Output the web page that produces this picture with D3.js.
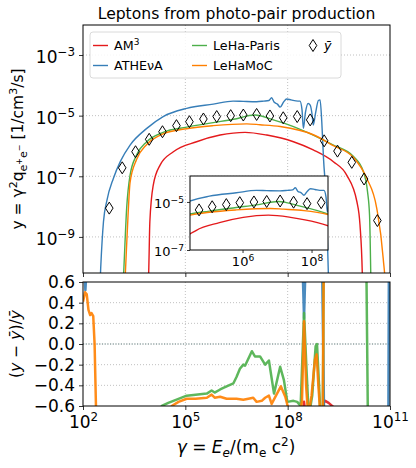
<!DOCTYPE html>
<head>
  <meta charset="utf-8">
  <title>Leptons from photo-pair production</title>
  <style>
    body { margin: 0; background: #fff; }
    svg text { font-family: "DejaVu Sans", sans-serif; fill: #000; }
  </style>
</head>
<body>
<script src="https://cdn.jsdelivr.net/npm/d3@7/dist/d3.min.js"></script>
<script>
  // log10(gamma) and log10(y), one pair of arrays per code
  var am3LogG = [3.88, 3.93, 3.96, 4.06, 4.26, 4.65, 5.33, 6.02, 6.75, 7.39, 8.17, 8.75, 9.34, 9.73, 10.03, 10.12, 10.19, 10.22];
  var am3LogY = [-12, -10, -8.5, -7.29, -6.63, -6.19, -5.86, -5.64, -5.55, -5.64, -5.86, -6.13, -6.52, -6.96, -7.84, -8.6, -10.3, -12];

  var athenaLogG = [2.45, 2.52, 2.6, 2.7, 2.89, 3.1, 3.38, 3.87, 4.35, 5.04, 5.82, 6.4, 6.7, 7.09, 7.3, 7.45, 7.53, 7.6, 7.7, 7.78, 7.88, 7.97, 8.1, 8.3, 8.36, 8.42, 8.46, 8.52, 8.6, 8.66, 8.72, 8.75, 8.82, 8.9, 8.95, 9.0, 9.05, 9.14, 9.2, 9.25];
  var athenaLogY = [-12, -10, -8.5, -7.8, -7.07, -6.5, -5.97, -5.42, -5.03, -4.76, -4.62, -4.52, -4.53, -4.54, -4.52, -4.5, -4.41, -4.55, -4.62, -4.72, -4.55, -4.45, -4.48, -4.52, -4.52, -4.8, -5.42, -4.9, -4.6, -4.65, -5.0, -5.31, -4.9, -4.5, -4.48, -5.2, -6.4, -8.05, -10.5, -13];

  var parisLogG = [3.12, 3.2, 3.28, 3.38, 3.57, 3.87, 4.35, 5.04, 5.82, 6.41, 7.04, 7.58, 8.17, 8.75, 9.34, 9.93, 10.22, 10.34, 10.4, 10.44, 10.47];
  var parisLogY = [-12, -10, -8.05, -6.96, -6.3, -5.86, -5.55, -5.38, -5.23, -5.12, -4.98, -5.14, -5.36, -5.64, -5.97, -6.35, -6.85, -7.5, -8.28, -10.5, -13];

  var lehamocLogG = [3.17, 3.25, 3.32, 3.38, 3.57, 3.87, 4.35, 5.04, 5.82, 6.8, 7.19, 7.78, 8.75, 9.34, 9.93, 10.32, 10.61, 10.8, 10.88, 10.92];
  var lehamocLogY = [-12, -10, -8.3, -7.2, -6.45, -5.95, -5.6, -5.43, -5.33, -5.27, -5.3, -5.36, -5.63, -5.99, -6.38, -7.07, -8.05, -9.7, -11, -13];

  var ybarLogG = [2.77, 3.15, 3.54, 3.94, 4.33, 4.74, 5.12, 5.53, 5.92, 6.33, 6.7, 7.09, 7.48, 7.87, 8.28, 8.66, 9.07, 9.46, 9.88, 10.24, 10.63];
  var ybarLogY = [-8.05, -6.72, -6.19, -5.78, -5.53, -5.33, -5.2, -5.11, -5.03, -5.0, -4.98, -4.96, -5.01, -5.07, -5.03, -5.14, -5.83, -6.17, -6.54, -7.09, -8.46];

  // residuals (y - ybar)/ybar, values past +-0.6 run off the panel
  var am3ResG = [8.4, 8.46, 8.48, 8.5, 8.56, 9.02, 9.06, 9.1, 9.2, 9.34, 9.4];
  var am3Res = [-1.0, -0.62, -0.56, -0.62, -1.0, -1.0, -0.56, -0.55, -0.57, -0.61, -0.7];

  var athenaResG = [2.0, 2.04, 2.07, 2.1, 2.14, 8.4, 8.45, 8.48, 8.51, 8.56, 9.0, 9.04, 9.08, 10.95, 10.97, 11.0];
  var athenaRes = [1.0, 0.7, 0.52, 0.7, 1.0, 1.0, 0.6, 0.25, 0.6, 1.0, 1.0, 0.0, -1.0, -1.0, 1.0, 1.0];

  var parisResG = [4.2, 4.31, 4.5, 4.65, 5.04, 5.63, 5.77, 5.86, 6.02, 6.21, 6.41, 6.5, 6.6, 6.7, 6.75, 6.95, 7.04, 7.19, 7.34, 7.45, 7.6, 7.78, 7.89, 7.99, 8.17, 8.28, 8.38, 8.48, 8.56, 8.62, 8.72, 8.82, 8.86, 8.92, 8.97, 9.03, 9.06, 10.3, 10.36, 11.0];
  var parisRes = [-1.0, -0.6, -0.57, -0.55, -0.5, -0.48, -0.45, -0.47, -0.44, -0.41, -0.38, -0.32, -0.24, -0.2, -0.21, -0.07, -0.12, -0.12, -0.2, -0.16, -0.48, -0.22, -0.35, -0.56, -0.55, -0.56, -0.6, 0.3, -0.3, -0.7, -0.5, -0.02, 0.0, -0.4, -0.75, -0.7, 1.0, 1.0, -1.0, -1.0];

  var lehamocResG = [2.0, 2.06, 2.11, 2.16, 2.21, 2.25, 2.3, 2.34, 2.38, 2.42, 4.5, 4.6, 4.8, 5.04, 5.3, 5.63, 5.77, 5.86, 6.02, 6.21, 6.5, 6.7, 6.85, 6.99, 7.09, 7.24, 7.34, 7.45, 7.53, 7.8, 7.93, 8.0, 8.1, 8.35, 8.42, 8.48, 8.54, 8.6, 8.7, 8.8, 8.85, 8.9, 8.97, 9.03, 9.06, 11.0];
  var lehamocRes = [0.41, 0.5, 0.48, 0.33, 0.28, 0.3, 0.27, 0.0, -0.6, -1.0, -1.0, -0.6, -0.56, -0.53, -0.53, -0.52, -0.49, -0.52, -0.51, -0.53, -0.53, -0.54, -0.53, -0.52, -0.56, -0.55, -0.52, -0.5, -0.58, -0.41, -0.51, -0.6, -0.7, -0.7, -0.55, 0.22, -0.4, -0.7, -0.5, -0.15, -0.1, -0.4, -0.75, -0.7, 1.0, 1.0];

  var topTicks = [1e-9, 1e-7, 1e-5, 1e-3];
  var xTicks = [1e2, 1e5, 1e8, 1e11];
  var botTicks = [-0.6, -0.4, -0.2, 0.0, 0.2, 0.4, 0.6];
  var insetXTicks = [1e6, 1e8];
  var insetYTicks = [1e-7, 1e-5];

  function pts(lg, ly) {
    return lg.map(function(g, i) { return {g: Math.pow(10, g), y: Math.pow(10, ly[i])}; });
  }
  function rpts(lg, r) {
    return lg.map(function(g, i) { return {g: Math.pow(10, g), r: r[i]}; });
  }

  var models = [
    {name: "AM3", color: "#e41a1c", d: pts(am3LogG, am3LogY), res: rpts(am3ResG, am3Res)},
    {name: "ATHENA", color: "#377eb8", d: pts(athenaLogG, athenaLogY), res: rpts(athenaResG, athenaRes)},
    {name: "LeHa-Paris", color: "#4daf4a", d: pts(parisLogG, parisLogY), res: rpts(parisResG, parisRes)},
    {name: "LeHaMoC", color: "#ff7f00", d: pts(lehamocLogG, lehamocLogY), res: rpts(lehamocResG, lehamocRes)}
  ];
  var ybar = pts(ybarLogG, ybarLogY);

  var L = 83, R = 390, T1 = 25, B1 = 273, T2 = 282, B2 = 406;
  var IL = 190, IR = 328, IT = 176, IB = 250;

  var x = d3.scaleLog().domain([1e2, 1e11]).range([L, R]);
  var y = d3.scaleLog().domain([Math.pow(10, -10.19), Math.pow(10, -2.01)]).range([B1, T1]);
  var yr = d3.scaleLinear().domain([-0.6, 0.6]).range([B2, T2]);
  var xi = d3.scaleLog().domain([3e4, 3e8]).range([IL, IR]);
  var yi = d3.scaleLog().domain([1e-7, Math.pow(10, -3.92)]).range([IB, IT]);

  var svg = d3.select("body").append("svg").attr("width", 416).attr("height", 468);
  var defs = svg.append("defs");
  function clip(id, x0, y0, w, h) {
    defs.append("clipPath").attr("id", id).append("rect")
      .attr("x", x0).attr("y", y0).attr("width", w).attr("height", h);
  }
  clip("cTop", L, T1, R - L, B1 - T1);
  clip("cBot", L, T2, R - L, B2 - T2);
  clip("cIn", IL, IT, IR - IL, IB - IT);

  // text with sub/superscripts: parts are {t, o (baseline offset px), s (size px), i (italic)}
  // dy is only written when the baseline moves, so a dy on the parent text still applies
  function rich(t, parts) {
    var prev = 0;
    parts.forEach(function(p) {
      var o = p.o || 0;
      var s = t.append("tspan").text(p.t);
      if (o !== prev) s.attr("dy", o - prev);
      if (p.s) s.style("font-size", p.s + "px");
      if (p.i) s.style("font-style", "italic");
      prev = o;
    });
  }
  function expLabels(g, size) {
    g.selectAll(".tick text").each(function(d) {
      var e = Math.round(Math.log10(d));
      var t = d3.select(this).text(null);
      rich(t, [{t: "10"}, {t: e < 0 ? "\u2212" + (-e) : "" + e, o: -size * 0.42, s: size * 0.7}]);
    });
  }
  function styleAxis(g, size) {
    g.attr("font-family", null).attr("font-size", null);
    g.select(".domain").remove();
    g.selectAll(".tick line").attr("stroke", "#000").attr("stroke-width", 0.8);
    g.selectAll(".tick text").style("font-size", size + "px");
  }
  function diamond(sel) {
    sel.attr("d", "M0,-6L3.8,0L0,6L-3.8,0Z").attr("fill", "none")
      .attr("stroke", "#000").attr("stroke-width", 1);
  }

  // ---- top panel ----
  var gTop = svg.append("g");
  gTop.selectAll(".hg").data(topTicks).enter().append("line")
    .attr("x1", L).attr("x2", R).attr("y1", function(d) { return y(d); }).attr("y2", function(d) { return y(d); })
    .attr("stroke", "#b0b0b0").attr("stroke-width", 0.8).attr("stroke-dasharray", "1,2");
  gTop.selectAll(".vg").data([1e5, 1e8]).enter().append("line")
    .attr("y1", T1).attr("y2", B1).attr("x1", function(d) { return x(d); }).attr("x2", function(d) { return x(d); })
    .attr("stroke", "#b0b0b0").attr("stroke-width", 0.8).attr("stroke-dasharray", "1,2");

  var line = d3.line().x(function(d) { return x(d.g); }).y(function(d) { return y(d.y); }).curve(d3.curveMonotoneX);
  var curves = gTop.append("g").attr("clip-path", "url(#cTop)");
  models.forEach(function(m) {
    curves.append("path").attr("d", line(m.d)).attr("fill", "none")
      .attr("stroke", m.color).attr("stroke-width", 1.4);
  });
  gTop.selectAll(".yb").data(ybar).enter().append("path")
    .attr("transform", function(d) { return "translate(" + x(d.g) + "," + y(d.y) + ")"; })
    .call(diamond);

  var ay = gTop.append("g").attr("transform", "translate(" + L + ",0)")
    .call(d3.axisLeft(y).tickValues(topTicks).tickSize(4).tickPadding(4).tickFormat(function() { return ""; }));
  styleAxis(ay, 17);
  ay.selectAll(".tick text").attr("dy", "0.45em");
  expLabels(ay, 17);
  var ax1 = gTop.append("g").attr("transform", "translate(0," + B1 + ")")
    .call(d3.axisBottom(x).tickValues(xTicks).tickSize(4).tickFormat(function() { return ""; }));
  styleAxis(ax1, 17);
  gTop.append("rect").attr("x", L).attr("y", T1).attr("width", R - L).attr("height", B1 - T1)
    .attr("fill", "none").attr("stroke", "#000").attr("stroke-width", 1);

  gTop.append("text").attr("x", (L + R) / 2).attr("y", 19).attr("text-anchor", "middle")
    .style("font-size", "15.6px").text("Leptons from photo-pair production");

  var yl = gTop.append("text").attr("transform", "translate(23," + (T1 + B1) / 2 + ") rotate(-90)")
    .attr("text-anchor", "middle").style("font-size", "15.5px");
  rich(yl, [{t: "y = \u03b3"}, {t: "2", o: -6, s: 11}, {t: "q"}, {t: "e", o: 4, s: 11},
            {t: "+", o: -1, s: 8}, {t: "e", o: 4, s: 11}, {t: "\u2212", o: -1, s: 8},
            {t: "  [1/cm"}, {t: "3", o: -6, s: 11}, {t: "/s]"}]);

  // legend
  var leg = gTop.append("g");
  leg.append("rect").attr("x", 90).attr("y", 32).attr("width", 251).attr("height", 46).attr("rx", 3)
    .attr("fill", "#fff").attr("fill-opacity", 0.85).attr("stroke", "#d0d0d0").attr("stroke-width", 0.8);
  var legPos = [[93, 45.5], [93, 65.5], [192, 45.5], [192, 65.5]];
  models.forEach(function(m, i) {
    var p = legPos[i];
    leg.append("line").attr("x1", p[0]).attr("x2", p[0] + 15).attr("y1", p[1]).attr("y2", p[1])
      .attr("stroke", m.color).attr("stroke-width", 1.4);
    var t = leg.append("text").attr("x", p[0] + 21).attr("y", p[1] + 4.5).style("font-size", "12.7px");
    if (m.name === "AM3") rich(t, [{t: "AM"}, {t: "3", o: -5, s: 9}]);
    else if (m.name === "ATHENA") t.text("ATHE\u03bdA");
    else t.text(m.name);
  });
  leg.append("path").attr("transform", "translate(313,45.5)").call(diamond);
  leg.append("text").attr("x", 324).attr("y", 50).style("font-size", "12.7px").style("font-style", "italic").text("\u0233");

  // inset
  var ins = svg.append("g");
  ins.append("rect").attr("x", IL).attr("y", IT).attr("width", IR - IL).attr("height", IB - IT).attr("fill", "#fff");
  var iline = d3.line().x(function(d) { return xi(d.g); }).y(function(d) { return yi(d.y); }).curve(d3.curveMonotoneX);
  var ic = ins.append("g").attr("clip-path", "url(#cIn)");
  models.forEach(function(m) {
    ic.append("path").attr("d", iline(m.d)).attr("fill", "none")
      .attr("stroke", m.color).attr("stroke-width", 1.4);
  });
  ic.selectAll(".yi").data(ybar).enter().append("path")
    .attr("transform", function(d) { return "translate(" + xi(d.g) + "," + yi(d.y) + ")"; })
    .call(diamond);
  var aiy = ins.append("g").attr("transform", "translate(" + IL + ",0)")
    .call(d3.axisLeft(yi).tickValues(insetYTicks).tickSize(3).tickPadding(3).tickFormat(function() { return ""; }));
  styleAxis(aiy, 13);
  aiy.selectAll(".tick text").attr("dy", "0.45em");
  expLabels(aiy, 13);
  var aix = ins.append("g").attr("transform", "translate(0," + IB + ")")
    .call(d3.axisBottom(xi).tickValues(insetXTicks).tickSize(3).tickPadding(4).tickFormat(function() { return ""; }));
  styleAxis(aix, 13);
  expLabels(aix, 13);
  ins.append("rect").attr("x", IL).attr("y", IT).attr("width", IR - IL).attr("height", IB - IT)
    .attr("fill", "none").attr("stroke", "#000").attr("stroke-width", 1);

  // ---- bottom panel ----
  var bot = svg.append("g");
  bot.selectAll(".hg").data([-0.4, -0.2, 0.2, 0.4]).enter().append("line")
    .attr("x1", L).attr("x2", R).attr("y1", function(d) { return yr(d); }).attr("y2", function(d) { return yr(d); })
    .attr("stroke", "#b0b0b0").attr("stroke-width", 0.8).attr("stroke-dasharray", "1,2");
  bot.selectAll(".vg").data([1e5, 1e8]).enter().append("line")
    .attr("y1", T2).attr("y2", B2).attr("x1", function(d) { return x(d); }).attr("x2", function(d) { return x(d); })
    .attr("stroke", "#b0b0b0").attr("stroke-width", 0.8).attr("stroke-dasharray", "1,2");
  bot.append("line").attr("x1", L).attr("x2", R).attr("y1", yr(0)).attr("y2", yr(0))
    .attr("stroke", "#2f4f4f").attr("stroke-width", 0.8).attr("stroke-dasharray", "1.2,1.5");

  var rline = d3.line().x(function(d) { return x(d.g); }).y(function(d) { return yr(d.r); });
  var rc = bot.append("g").attr("clip-path", "url(#cBot)");
  models.forEach(function(m) {
    rc.append("path").attr("d", rline(m.res)).attr("fill", "none")
      .attr("stroke", m.color).attr("stroke-width", 2.5).attr("stroke-opacity", 0.9)
      .attr("stroke-linejoin", "round");
  });

  var ary = bot.append("g").attr("transform", "translate(" + L + ",0)")
    .call(d3.axisLeft(yr).tickValues(botTicks).tickSize(4).tickPadding(4).tickFormat(d3.format(".1f")));
  styleAxis(ary, 17);
  var ax2 = bot.append("g").attr("transform", "translate(0," + B2 + ")")
    .call(d3.axisBottom(x).tickValues(xTicks).tickSize(4).tickPadding(6).tickFormat(function() { return ""; }));
  styleAxis(ax2, 17);
  expLabels(ax2, 17);
  bot.append("rect").attr("x", L).attr("y", T2).attr("width", R - L).attr("height", B2 - T2)
    .attr("fill", "none").attr("stroke", "#000").attr("stroke-width", 1);

  var yl2 = bot.append("text").attr("transform", "translate(21," + (T2 + B2) / 2 + ") rotate(-90)")
    .attr("text-anchor", "middle").style("font-size", "15.5px");
  rich(yl2, [{t: "("}, {t: "y", i: true}, {t: " \u2212 "}, {t: "\u0233", i: true}, {t: ")/"}, {t: "\u0233", i: true}]);

  var xl = bot.append("text").attr("x", 236).attr("y", 453).attr("text-anchor", "middle").style("font-size", "17px");
  rich(xl, [{t: "\u03b3", i: true}, {t: " = "}, {t: "E", i: true}, {t: "e", o: 4, s: 12, i: true},
            {t: "/(m"}, {t: "e", o: 4, s: 12}, {t: " c"}, {t: "2", o: -7, s: 12}, {t: ")"}]);
</script>
</body>
